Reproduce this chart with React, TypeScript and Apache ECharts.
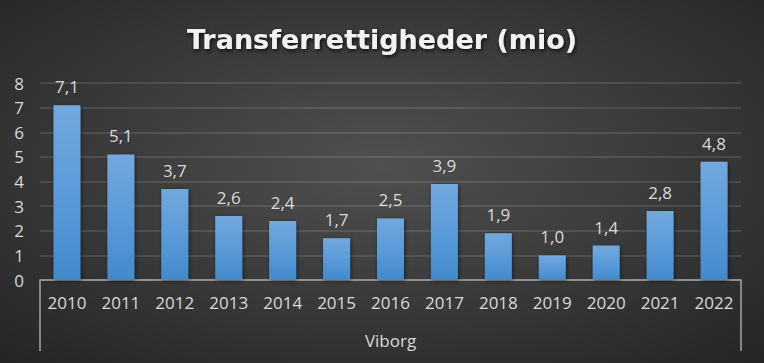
import React, { useEffect, useRef } from "react";
import * as echarts from "echarts";

const titleText = "Transferrettigheder (mio)";
const years = ["2010", "2011", "2012", "2013", "2014", "2015", "2016", "2017", "2018", "2019", "2020", "2021", "2022"];
const values = [7.1, 5.1, 3.7, 2.6, 2.4, 1.7, 2.5, 3.9, 1.9, 1.0, 1.4, 2.8, 4.8];
const groupLabels = ["Viborg"];
const yMin = 0;
const yMax = 8;
const yInterval = 1;

const FONT = "'Open Sans', 'Noto Sans', sans-serif";

export default function App() {
  const ref = useRef<HTMLDivElement>(null);
  useEffect(() => {
    document.body.style.margin = "0";
    if (!ref.current) return;
    const chart = echarts.init(ref.current, null, { renderer: "svg" });
    chart.setOption({
      animation: false,
      backgroundColor: {
        type: "radial",
        x: 0.5,
        y: 0.45,
        r: 0.75,
        colorStops: [
          { offset: 0, color: "#505050" },
          { offset: 1, color: "#242424" },
        ],
      },
      title: {
        text: titleText,
        left: "center",
        top: 21,
        textStyle: {
          color: "#f2f2f2",
          fontFamily: "'DejaVu Sans', sans-serif",
          fontWeight: "bold",
          fontSize: 27,
          textShadowColor: "rgba(0,0,0,0.8)",
          textShadowBlur: 4,
          textShadowOffsetX: 1,
          textShadowOffsetY: 2,
        },
      },
      grid: { left: 40, right: 23, top: 83, bottom: 83, containLabel: false },
      xAxis: [
        {
          type: "category",
          data: years,
          axisLine: { show: true, lineStyle: { color: "#a6a6a6", width: 1.5 } },
          axisTick: { show: false },
          axisLabel: { color: "#d9d9d9", fontSize: 17, fontFamily: FONT, margin: 14 },
        },
        {
          type: "category",
          data: groupLabels,
          position: "bottom",
          axisLine: { show: false },
          axisTick: { show: true, length: 71, lineStyle: { color: "#a6a6a6", width: 1.5 } },
          axisLabel: { color: "#d9d9d9", fontSize: 17, fontFamily: FONT, margin: 52 },
        },
      ],
      yAxis: {
        type: "value",
        min: yMin,
        max: yMax,
        interval: yInterval,
        axisLine: { show: false },
        axisTick: { show: false },
        axisLabel: { color: "#d9d9d9", fontSize: 17, fontFamily: FONT, margin: 16 },
        splitLine: { lineStyle: { color: "rgba(255,255,255,0.15)", width: 1.5 } },
      },
      series: [
        {
          type: "bar",
          data: values,
          xAxisIndex: 0,
          barWidth: "50%",
          itemStyle: {
            color: {
              type: "linear",
              x: 0,
              y: 0,
              x2: 0,
              y2: 1,
              colorStops: [
                { offset: 0, color: "#72a8de" },
                { offset: 0.5, color: "#5b9bd9" },
                { offset: 1, color: "#428acb" },
              ],
            },
            shadowColor: "rgba(0,0,0,0.5)",
            shadowBlur: 4,
            shadowOffsetX: 1,
            shadowOffsetY: 1,
          },
          label: {
            show: true,
            position: "top",
            distance: 10,
            color: "#d9d9d9",
            fontSize: 17,
            fontFamily: FONT,
            formatter: (p: any) => p.value.toFixed(1).replace(".", ","),
          },
        },
      ],
    });
    return () => chart.dispose();
  }, []);
  return <div ref={ref} style={{ position: "absolute", left: 0, top: 0, width: 764, height: 363 }} />;
}
